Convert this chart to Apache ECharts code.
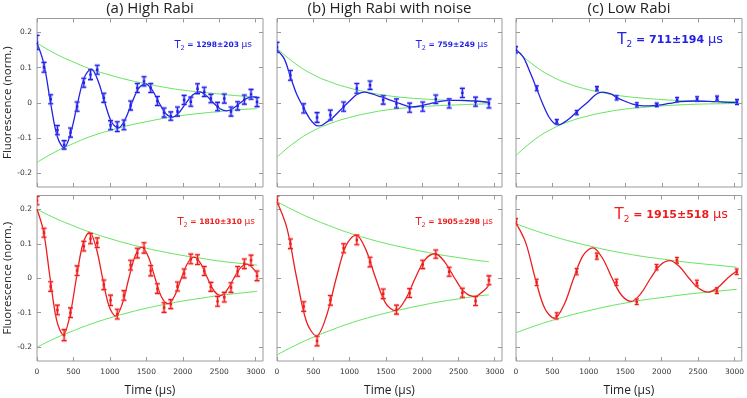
<!DOCTYPE html>
<html>
<head>
<meta charset="utf-8">
<script src="https://cdn.jsdelivr.net/npm/echarts@6/dist/echarts.min.js"></script>
<style>
html, body { margin: 0; padding: 0; background: #fff; }
#chart { width: 747px; height: 398px; }
</style>
</head>
<body>
<div id="chart"></div>
<script>
// ---- data (time in μs, fluorescence normalised) ----
const titles = ['(a) High Rabi', '(b) High Rabi with noise', '(c) Low Rabi']
const t2Labels = ['1298±203', '759±249', '711±194', '1810±310', '1905±298', '1915±518']
const xTicks = [0, 500, 1000, 1500, 2000, 2500, 3000]
const yTicks = [-0.2, -0.1, 0, 0.1, 0.2]

// measurement times
const timesA = [0, 96, 188, 280, 372, 459, 550, 642, 734, 826, 917, 1009, 1101, 1193, 1284, 1376, 1468,
  1560, 1651, 1743, 1835, 1927, 2018, 2110, 2202, 2294, 2385, 2477, 2569, 2661, 2752, 2844, 2936, 3018]
const timesB = [0, 185, 368, 552, 735, 918, 1100, 1282, 1463, 1646, 1828, 2008, 2188, 2372, 2554, 2736, 2920]
const timesC = [0, 284, 559, 833, 1110, 1380, 1658, 1930, 2210, 2484, 2758, 3031]

// measured points (top row blue, bottom row red)
const aTopY = [0.172, 0.101, 0.010, -0.078, -0.120, -0.085, -0.011, 0.057, 0.080, 0.094, 0.014, -0.064, -0.068,
  -0.063, -0.008, 0.042, 0.061, 0.042, 0.005, -0.028, -0.038, -0.025, 0.008, 0.003, 0.040, 0.031, 0.012,
  -0.011, 0.012, -0.025, -0.009, 0.009, 0.024, 0.002]
const aTopErr = [0.020, 0.014, 0.013, 0.013, 0.012, 0.013, 0.013, 0.013, 0.014, 0.013, 0.013, 0.013, 0.014,
  0.014, 0.013, 0.013, 0.013, 0.013, 0.013, 0.013, 0.012, 0.013, 0.013, 0.013, 0.014, 0.013, 0.012, 0.012,
  0.013, 0.013, 0.012, 0.013, 0.014, 0.013]
const aBotY = [0.225, 0.132, -0.024, -0.092, -0.165, -0.100, 0.022, 0.093, 0.115, 0.103, -0.019, -0.064, -0.104,
  -0.050, 0.038, 0.073, 0.088, 0.022, -0.030, -0.085, -0.075, -0.024, 0.014, 0.056, 0.054, 0.021, -0.025,
  -0.067, -0.055, -0.027, 0.020, 0.042, 0.052, 0.007]
const aBotErr = [0.012, 0.013, 0.014, 0.014, 0.016, 0.014, 0.014, 0.014, 0.015, 0.014, 0.014, 0.015, 0.014,
  0.014, 0.014, 0.014, 0.015, 0.015, 0.014, 0.014, 0.013, 0.013, 0.013, 0.014, 0.014, 0.013, 0.013, 0.014,
  0.014, 0.014, 0.014, 0.014, 0.015, 0.014]
const bTopY = [0.158, 0.078, -0.016, -0.042, -0.035, -0.011, 0.041, 0.050, 0.008, -0.002, -0.014, -0.011,
  0.010, -0.002, 0.028, 0.003, -0.002]
const bTopErr = [0.014, 0.014, 0.013, 0.014, 0.014, 0.013, 0.014, 0.012, 0.012, 0.013, 0.013, 0.013, 0.012,
  0.013, 0.013, 0.013, 0.013]
const bBotY = [0.227, 0.100, -0.082, -0.182, -0.064, 0.087, 0.111, 0.047, -0.045, -0.091, -0.043, 0.040,
  0.070, 0.019, -0.042, -0.066, -0.006]
const bBotErr = [0.012, 0.014, 0.014, 0.014, 0.014, 0.013, 0.014, 0.014, 0.014, 0.013, 0.013, 0.012, 0.012,
  0.013, 0.013, 0.013, 0.013]
const cTopY = [0.151, 0.041, -0.054, -0.028, 0.040, 0.014, -0.006, -0.006, 0.009, 0.011, 0.013, 0.002]
const cTopErr = [0.009, 0.007, 0.006, 0.006, 0.006, 0.006, 0.006, 0.005, 0.006, 0.006, 0.006, 0.007]
const cBotY = [0.164, -0.012, -0.109, 0.019, 0.064, -0.012, -0.068, 0.032, 0.052, -0.014, -0.036, 0.019]
const cBotErr = [0.009, 0.009, 0.009, 0.009, 0.009, 0.009, 0.008, 0.008, 0.008, 0.008, 0.008, 0.008]

// fitted curves
const aTopFitT = [0, 93, 186, 279, 372, 465, 558, 651, 744, 837, 930, 1023, 1116, 1209, 1302, 1395, 1488, 1581,
  1674, 1767, 1860, 1953, 2046, 2139, 2232, 2325, 2418, 2511, 2604, 2697, 2790, 2883, 2976, 3020]
const aTopFitY = [0.170, 0.112, 0, -0.097, -0.128, -0.084, 0, 0.073, 0.096, 0.063, 0, -0.055, -0.072, -0.047,
  0, 0.041, 0.054, 0.036, 0, -0.031, -0.041, -0.027, 0, 0.023, 0.031, 0.020, 0, -0.017, -0.023, -0.015, 0,
  0.013, 0.017, 0.016]
const aBotFitT = [0, 90, 180, 270, 360, 450, 540, 630, 720, 810, 900, 990, 1080, 1170, 1260, 1350, 1440, 1530,
  1620, 1710, 1800, 1890, 1980, 2070, 2160, 2250, 2340, 2430, 2520, 2610, 2700, 2790, 2880, 2970, 3020]
const aBotFitY = [0.200, 0.135, 0, -0.122, -0.164, -0.110, 0, 0.100, 0.134, 0.090, 0, -0.082, -0.110, -0.074,
  0, 0.067, 0.090, 0.061, 0, -0.055, -0.074, -0.050, 0, 0.045, 0.061, 0.041, 0, -0.037, -0.050, -0.033, 0,
  0.030, 0.041, 0.027, 0.013]
const bTopFitT = [0, 100, 183, 270, 330, 366, 450, 520, 563, 620, 700, 746, 830, 906, 1000, 1089, 1150, 1204,
  1300, 1400, 1456, 1550, 1639, 1776, 1850, 1950, 2100, 2250, 2400, 2550, 2738, 2921]
const bTopFitY = [0.150, 0.125, 0.075, 0.025, 0.000, -0.014, -0.045, -0.062, -0.066, -0.064, -0.053, -0.047,
  -0.030, -0.014, 0.005, 0.022, 0.028, 0.030, 0.026, 0.019, 0.016, 0.008, 0.002, -0.008, -0.012, -0.010,
  -0.003, 0.004, 0.007, 0.007, 0.005, 0.001]
const bBotFitT = [0, 136, 272, 408, 544, 680, 816, 952, 1088, 1224, 1360, 1496, 1632, 1768, 1904, 2040, 2176,
  2312, 2448, 2584, 2720, 2856, 2920]
const bBotFitY = [0.222, 0.146, 0, -0.127, -0.167, -0.110, 0, 0.095, 0.125, 0.083, 0, -0.072, -0.094, -0.062,
  0, 0.054, 0.071, 0.047, 0, -0.040, -0.053, -0.035, -0.019]
const cTopFitT = [0, 100, 200, 284, 360, 450, 530, 590, 660, 750, 850, 990, 1100, 1185, 1300, 1391, 1500, 1600,
  1700, 1830, 1950, 2100, 2250, 2450, 2650, 2850, 3031]
const cTopFitY = [0.151, 0.130, 0.083, 0.040, 0.000, -0.040, -0.060, -0.063, -0.056, -0.042, -0.022, 0.003,
  0.024, 0.030, 0.025, 0.014, 0.004, -0.004, -0.008, -0.009, -0.007, -0.002, 0.003, 0.005, 0.004, 0.002, 0.001]
const cBotFitT = [0, 132, 264, 396, 528, 660, 792, 924, 1056, 1188, 1320, 1452, 1584, 1716, 1848, 1980, 2112,
  2244, 2376, 2508, 2640, 2772, 2904, 3031]
const cBotFitY = [0.160, 0.104, 0, -0.088, -0.116, -0.077, 0, 0.067, 0.088, 0.058, 0, -0.050, -0.067, -0.044,
  0, 0.038, 0.051, 0.034, 0, -0.029, -0.040, -0.027, 0, 0.021]

// decay envelopes (drawn as +/-)
const envTA = [0, 250, 500, 750, 1000, 1250, 1500, 1750, 2000, 2250, 2500, 2750, 3020]
const envTB = [0, 250, 500, 750, 1000, 1250, 1500, 1750, 2000, 2250, 2500, 2750, 2920]
const envTC = [0, 250, 500, 750, 1000, 1250, 1500, 1750, 2000, 2250, 2500, 2750, 3031]
const aTopEnv = [0.170, 0.140, 0.116, 0.095, 0.079, 0.065, 0.054, 0.044, 0.036, 0.030, 0.025, 0.020, 0.017]
const aBotEnv = [0.200, 0.174, 0.152, 0.132, 0.115, 0.100, 0.087, 0.076, 0.066, 0.058, 0.050, 0.044, 0.038]
const bTopEnv = [0.155, 0.112, 0.080, 0.058, 0.042, 0.030, 0.021, 0.015, 0.011, 0.008, 0.006, 0.004, 0.003]
const bBotEnv = [0.222, 0.195, 0.171, 0.150, 0.131, 0.115, 0.101, 0.089, 0.078, 0.068, 0.060, 0.052, 0.048]
const cTopEnv = [0.150, 0.106, 0.074, 0.052, 0.037, 0.026, 0.018, 0.013, 0.009, 0.006, 0.004, 0.003, 0.002]
const cBotEnv = [0.158, 0.139, 0.122, 0.107, 0.094, 0.082, 0.072, 0.063, 0.056, 0.049, 0.043, 0.038, 0.032]

// ---- layout ----
const BLUE = '#2222e6', BLUE_HALO = 'rgba(110,110,255,0.45)'
const RED = '#ee1d1d', RED_HALO = 'rgba(255,110,110,0.45)'
const GREEN = '#62e35a'
const FRAME = '#9a9a9a'
const COLS = [{ left: 37, width: 226 }, { left: 277, width: 225 }, { left: 516, width: 226 }]
const ROWS = [{ top: 18.5, height: 168.5 }, { top: 195.5, height: 169.5 }]

const panels = [
  { row: 0, col: 0, t: timesA, y: aTopY, err: aTopErr, fitT: aTopFitT, fitY: aTopFitY, envT: envTA, env: aTopEnv, lbl: { dx: 11, y: 45, big: false } },
  { row: 0, col: 1, t: timesB, y: bTopY, err: bTopErr, fitT: bTopFitT, fitY: bTopFitY, envT: envTB, env: bTopEnv, lbl: { dx: 14, y: 45, big: false } },
  { row: 0, col: 2, t: timesC, y: cTopY, err: cTopErr, fitT: cTopFitT, fitY: cTopFitY, envT: envTC, env: cTopEnv, lbl: { dx: 19, y: 40, big: true } },
  { row: 1, col: 0, t: timesA, y: aBotY, err: aBotErr, fitT: aBotFitT, fitY: aBotFitY, envT: envTA, env: aBotEnv, lbl: { dx: 8, y: 222, big: false } },
  { row: 1, col: 1, t: timesB, y: bBotY, err: bBotErr, fitT: bBotFitT, fitY: bBotFitY, envT: envTB, env: bBotEnv, lbl: { dx: 9, y: 222, big: false } },
  { row: 1, col: 2, t: timesC, y: cBotY, err: cBotErr, fitT: cBotFitT, fitY: cBotFitY, envT: envTC, env: cBotEnv, lbl: { dx: 14, y: 215, big: true } }
]

function errorBars(color, halo, cap) {
  return function (params, api) {
    const x = api.value(0), y = api.value(1), e = api.value(2)
    const top = api.coord([x, y + e]), bot = api.coord([x, y - e]), mid = api.coord([x, y])
    const seg = (x1, y1, x2, y2, style) => ({ type: 'line', shape: { x1, y1, x2, y2 }, style })
    const children = []
    ;[{ stroke: halo, lineWidth: 3 }, { stroke: color, lineWidth: 1.1 }].forEach(s => {
      children.push(seg(top[0], top[1], bot[0], bot[1], s))
      children.push(seg(top[0] - cap, top[1], top[0] + cap, top[1], s))
      children.push(seg(bot[0] - cap, bot[1], bot[0] + cap, bot[1], s))
    })
    children.push({ type: 'rect', shape: { x: mid[0] - 1.2, y: mid[1] - 1.2, width: 2.4, height: 2.4 }, style: { fill: color } })
    return { type: 'group', children }
  }
}

const tickStyle = { inside: true, length: 4, lineStyle: { color: FRAME, width: 1 } }
const labelFont = { fontFamily: 'DejaVu Sans', fontSize: 7.5, color: '#333' }
const fmtY = v => Math.abs(v) < 1e-9 ? '0' : v.toFixed(1)
const fmtX = v => String(Math.round(v))

const grid = [], xAxis = [], yAxis = [], series = [], graphic = []

panels.forEach((p, i) => {
  const c = COLS[p.col], r = ROWS[p.row]
  grid.push({ left: c.left, top: r.top, width: c.width, height: r.height, show: true, borderColor: FRAME, borderWidth: 1 })
  const xBase = { gridIndex: i, type: 'value', min: 0, max: 3100, axisLine: { show: false, onZero: false }, splitLine: { show: false } }
  const yBase = { gridIndex: i, type: 'value', min: -0.24, max: 0.24, axisLine: { show: false, onZero: false }, splitLine: { show: false } }
  xAxis.push({
    ...xBase, position: 'bottom',
    axisTick: { ...tickStyle, customValues: xTicks },
    axisLabel: { show: p.row === 1, customValues: xTicks, formatter: fmtX, margin: 7, ...labelFont },
    name: p.row === 1 ? 'Time (μs)' : '', nameLocation: 'middle', nameGap: 24,
    nameTextStyle: { fontFamily: 'Open Sans', fontSize: 12, color: '#222' }
  })
  xAxis.push({ ...xBase, position: 'top', axisTick: { ...tickStyle, customValues: xTicks }, axisLabel: { show: false } })
  yAxis.push({
    ...yBase, position: 'left',
    axisTick: { ...tickStyle, customValues: yTicks },
    axisLabel: { show: p.col === 0, customValues: yTicks, formatter: fmtY, margin: 5, ...labelFont },
    name: p.col === 0 ? 'Fluorescence (norm.)' : '', nameLocation: 'middle', nameGap: 22, nameRotate: 90,
    nameTextStyle: { fontFamily: 'Open Sans', fontSize: 11.5, color: '#222' }
  })
  yAxis.push({ ...yBase, position: 'right', axisTick: { ...tickStyle, customValues: yTicks }, axisLabel: { show: false } })

  const color = p.row === 0 ? BLUE : RED
  const halo = p.row === 0 ? BLUE_HALO : RED_HALO
  const common = { xAxisIndex: 2 * i, yAxisIndex: 2 * i, silent: true }
  series.push({ ...common, type: 'line', smooth: true, showSymbol: false, z: 2,
    lineStyle: { color: GREEN, width: 1 }, data: p.envT.map((t, k) => [t, p.env[k]]) })
  series.push({ ...common, type: 'line', smooth: true, showSymbol: false, z: 2,
    lineStyle: { color: GREEN, width: 1 }, data: p.envT.map((t, k) => [t, -p.env[k]]) })
  series.push({ ...common, type: 'line', smooth: 0.35, showSymbol: false, z: 3,
    lineStyle: { color: color, width: 1.3 }, data: p.fitT.map((t, k) => [t, p.fitY[k]]) })
  series.push({ ...common, type: 'custom', z: 4, clip: true,
    renderItem: errorBars(color, halo, p.col === 2 ? 2 : 2.5),
    data: p.t.map((t, k) => [t, p.y[k], p.err[k]]) })

  // T2 annotation
  const big = p.lbl.big
  graphic.push({
    type: 'text', x: c.left + c.width - p.lbl.dx, y: p.lbl.y, silent: true,
    style: {
      text: '{t|T}{s|2}{n| = ' + t2Labels[i] + ' }{u|μs}',
      align: 'right', verticalAlign: 'middle', fill: color,
      rich: {
        t: { fontFamily: 'DejaVu Sans', fontSize: big ? 15 : 10, fill: color },
        s: { fontFamily: 'DejaVu Sans', fontSize: big ? 9 : 6.5, fill: color, padding: [big ? 9 : 6, 0, 0, 0] },
        n: { fontFamily: 'DejaVu Sans', fontWeight: 'bold', fontSize: big ? 11 : 7.5, fill: color },
        u: { fontFamily: 'DejaVu Sans', fontSize: big ? 13 : 9, fill: color }
      }
    }
  })
})

titles.forEach((txt, k) => {
  const c = COLS[k]
  graphic.push({
    type: 'text', x: c.left + c.width / 2, y: 9, silent: true,
    style: { text: txt, align: 'center', verticalAlign: 'middle', fontFamily: 'Open Sans', fontSize: 15, fill: '#222' }
  })
})

const chart = echarts.init(document.getElementById('chart'), null, { renderer: 'canvas' })
chart.setOption({ animation: false, grid, xAxis, yAxis, series, graphic })
</script>
</body>
</html>
